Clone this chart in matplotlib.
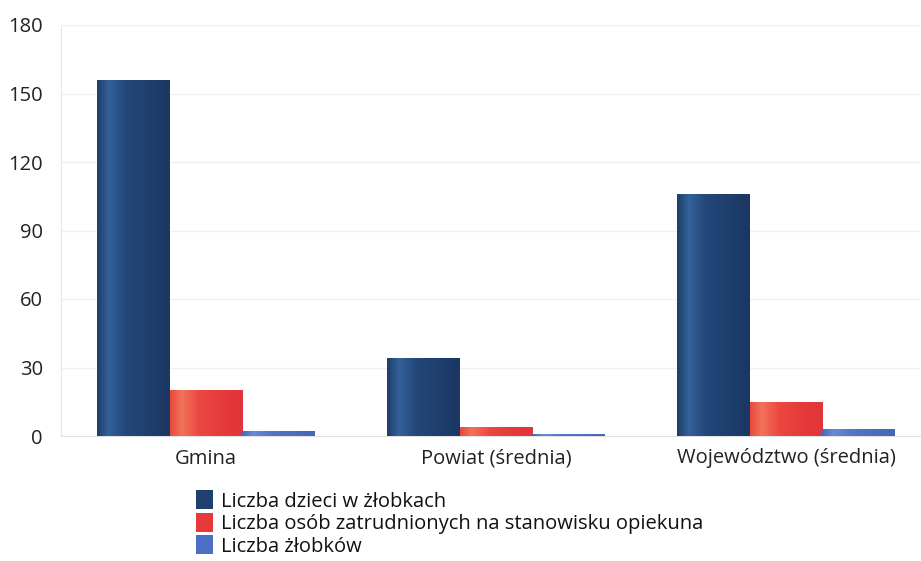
import matplotlib
matplotlib.use("Agg")
import matplotlib.pyplot as plt
import numpy as np
from matplotlib.colors import LinearSegmentedColormap

plt.rcParams['font.family'] = ['Open Sans', 'DejaVu Sans']

categories = ["Gmina", "Powiat (średnia)", "Województwo (średnia)"]
series_names = ["Liczba dzieci w żłobkach",
                "Liczba osób zatrudnionych na stanowisku opiekuna",
                "Liczba żłobków"]
dzieci = [156, 34, 106]
opiekunowie = [20, 4, 15]
zlobki = [2, 1, 3]
yticks = [0, 30, 60, 90, 120, 150, 180]

base_colors = ["#1f3f6e", "#e8393a", "#4a6fc4"]
grad_stops = [
    ["#1e3c69", "#34629a", "#23477a", "#1f3f6e", "#1b3762"],
    ["#e9483e", "#f1735a", "#ec4842", "#e63a3c", "#e0353a"],
    ["#4568bd", "#6a8ad3", "#5277c8", "#4a6fc4", "#4366b8"],
]

fig = plt.figure(figsize=(9.21, 5.61), dpi=100)
ax = fig.add_axes([61/921, 125/561, (920-61)/921, (436-25)/561])

x = np.arange(len(categories))
w = 0.25
series = [dzieci, opiekunowie, zlobki]
containers = []
for i, (vals, name) in enumerate(zip(series, series_names)):
    c = ax.bar(x + (i - 1) * w, vals, w, color=base_colors[i], label=name,
               edgecolor="none", zorder=2)
    containers.append(c)

# gradient fill clipped to each bar
grad = np.linspace(0, 1, 256).reshape(1, -1)
for i, c in enumerate(containers):
    cmap = LinearSegmentedColormap.from_list(
        f"g{i}", list(zip([0, 0.16, 0.4, 0.7, 1.0], grad_stops[i])))
    for p in c.patches:
        x0, y0 = p.get_x(), p.get_y()
        im = ax.imshow(grad, cmap=cmap, aspect="auto",
                       extent=(x0, x0 + p.get_width(), y0, y0 + p.get_height()),
                       zorder=3, interpolation="bilinear")
        im.set_clip_path(p)
ax.set_xlim(-0.5, 2.462)
ax.set_ylim(0, 180)

ax.set_yticks(yticks)
ax.set_yticklabels([str(v) for v in yticks])
ax.set_xticks(x)
ax.set_xticklabels(categories)
ax.tick_params(axis="y", length=0, pad=13, labelsize=14.5, colors="#222222")
ax.tick_params(axis="x", length=0, pad=9, labelsize=14.5, colors="#222222")

ax.grid(axis="y", color="#f0f0f0", linewidth=1, zorder=0)
ax.set_axisbelow(True)
for s in ["top", "right"]:
    ax.spines[s].set_visible(False)
ax.spines["left"].set_color("#e6e6e6")
ax.spines["bottom"].set_color("#e0e0e0")

handles, labels = ax.get_legend_handles_labels()
leg = fig.legend(handles, labels, loc="upper left",
                 bbox_to_anchor=(196/921, 1 - 490/561), frameon=False,
                 fontsize=14.5, handlelength=0.85, handleheight=1.1,
                 handletextpad=0.4, labelspacing=0.05, borderpad=0,
                 borderaxespad=0)
for t in leg.get_texts():
    t.set_color("#111111")

fig.savefig("out.png", dpi=100)
